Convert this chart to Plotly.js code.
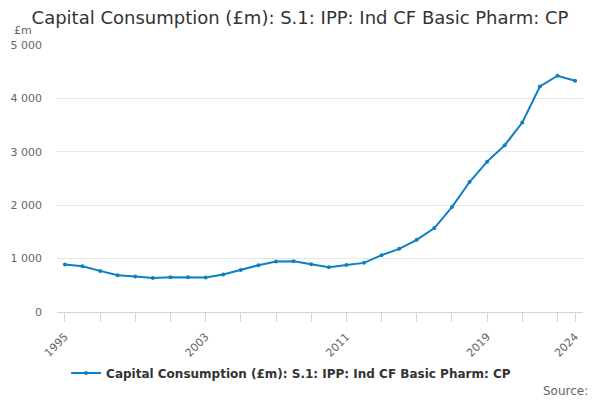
<!DOCTYPE html>
<html>
<head>
<meta charset="utf-8">
<title>Capital Consumption chart</title>
<script src="https://cdn.plot.ly/plotly-3.0.1.min.js"></script>
<style>
body { margin: 0; background: #fff; }
#chart { width: 600px; height: 400px; }
</style>
</head>
<body>
<div id="chart"></div>
<script>
// values, £m
var years = [1995,1996,1997,1998,1999,2000,2001,2002,2003,2004,2005,2006,2007,2008,2009,
             2010,2011,2012,2013,2014,2015,2016,2017,2018,2019,2020,2021,2022,2023,2024];
var values = [890,857,770,688,663,638,651,651,645,701,788,876,945,951,895,
              839,882,920,1064,1183,1352,1571,1965,2434,2816,3123,3548,4224,4424,4330];
var tickYears = [1995,1997,1999,2001,2003,2005,2007,2009,2011,2013,2015,2017,2019,2021,2023,2024];
var tickLabels = ["1995","","","","2003","","","","2011","","","","2019","","","2024"];
var seriesName = "Capital Consumption (£m): S.1: IPP: Ind CF Basic Pharm: CP";

var blue = "#0f7ec6";
var font = "DejaVu Sans, sans-serif";

var trace = {
  x: years, y: values, name: seriesName,
  type: "scatter", mode: "lines+markers",
  line: {color: blue, width: 2},
  marker: {color: blue, size: 4}
};

var layout = {
  width: 600, height: 400,
  margin: {l: 57, r: 17, t: 45, b: 88},
  paper_bgcolor: "#fff", plot_bgcolor: "#fff",
  font: {family: font, color: "#333"},
  separators: ". ",
  title: {text: "Capital Consumption (£m): S.1: IPP: Ind CF Basic Pharm: CP",
          font: {size: 18, color: "#333", family: font},
          x: 0.5, xanchor: "center", y: 0.955, yanchor: "middle"},
  showlegend: true,
  legend: {orientation: "h", x: 0.445, xanchor: "center", y: -0.228, yanchor: "middle",
           itemwidth: 30,
           font: {size: 12, color: "#333", family: font, weight: "bold"}},
  xaxis: {
    range: [1994.55, 2024.45], tickmode: "array",
    tickvals: tickYears, ticktext: tickLabels, tickangle: -45,
    showgrid: false, zeroline: false,
    showline: true, linecolor: "#ccd6eb", linewidth: 1,
    ticks: "outside", ticklen: 9, tickcolor: "#ccd6eb",
    ticklabelstandoff: 4,
    tickfont: {size: 11, color: "#666", family: font}
  },
  yaxis: {
    range: [0, 5000], dtick: 1000, tickformat: ",d",
    showgrid: true, gridcolor: "#e6e6e6", zeroline: false,
    showline: false, ticks: "", ticklabelstandoff: 14,
    tickfont: {size: 11, color: "#666", family: font}
  },
  annotations: [
    {text: "£m", xref: "paper", yref: "paper", x: -0.0856, y: 1.055,
     xanchor: "left", yanchor: "middle", showarrow: false,
     font: {size: 11, color: "#666", family: font}},
    {text: "Source:", xref: "paper", yref: "paper", x: 1.013, y: -0.297,
     xanchor: "right", yanchor: "middle", showarrow: false,
     font: {size: 12, color: "#666", family: font}}
  ]
};

Plotly.newPlot("chart", [trace], layout, {displayModeBar: false, staticPlot: true});
</script>
</body>
</html>
